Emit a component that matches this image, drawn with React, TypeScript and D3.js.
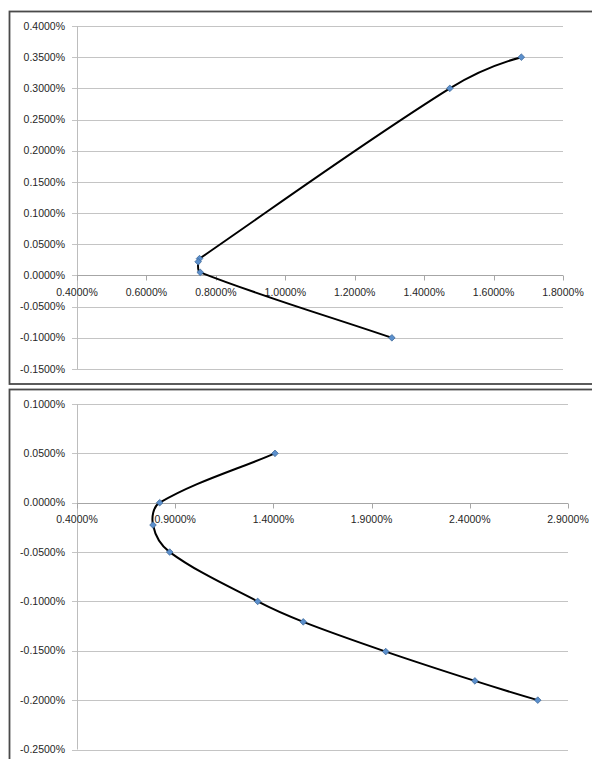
import React, { useEffect, useRef } from "react";
import * as d3 from "d3";

// top chart series (percent values)
const topX = [1.68, 1.474, 0.753, 0.749, 0.755, 1.307];
const topY = [0.35, 0.3, 0.027, 0.022, 0.005, -0.1];
const topXTicks = [0.4, 0.6, 0.8, 1.0, 1.2, 1.4, 1.6, 1.8];
const topYTicks = [0.4, 0.35, 0.3, 0.25, 0.2, 0.15, 0.1, 0.05, 0, -0.05, -0.1, -0.15];

// bottom chart series
const bottomX = [1.408, 0.821, 0.787, 0.872, 1.32, 1.552, 1.972, 2.426, 2.746];
const bottomY = [0.05, 0, -0.0226, -0.05, -0.1, -0.1207, -0.1508, -0.1805, -0.2];
const bottomXTicks = [0.4, 0.9, 1.4, 1.9, 2.4, 2.9];
const bottomYTicks = [0.1, 0.05, 0, -0.05, -0.1, -0.15, -0.2, -0.25];

const W = 592;
const H = 759;

const fmt = (v: number) => v.toFixed(4) + "%";

// Excel-ish smoothing: interior tangents along (next - prev), arm = 1/3 of the
// segment. A short end segment gets its tangent mirrored about the chord so it
// bends naturally; a long one stays on the chord.
function excelSmooth(context: any) {
  let pts: [number, number][] = [];
  return {
    areaStart() {},
    areaEnd() {},
    lineStart() {
      pts = [];
    },
    point(x: number, y: number) {
      pts.push([+x, +y]);
    },
    lineEnd() {
      const n = pts.length;
      if (!n) return;
      context.moveTo(pts[0][0], pts[0][1]);
      if (n === 1) return;
      const unit = (dx: number, dy: number): [number, number] => {
        const l = Math.hypot(dx, dy) || 1;
        return [dx / l, dy / l];
      };
      const dist = (a: number, b: number) =>
        Math.hypot(pts[b][0] - pts[a][0], pts[b][1] - pts[a][1]);
      const dirs: [number, number][] = pts.map((_, i) => {
        const a = pts[Math.max(0, i - 1)];
        const b = pts[Math.min(n - 1, i + 1)];
        return unit(b[0] - a[0], b[1] - a[1]);
      });
      if (n > 2) {
        const mirror = (end: number, nb: number, nb2: number) => {
          if (dist(end, nb) >= dist(nb, nb2)) return;
          const c = unit(pts[nb][0] - pts[end][0], pts[nb][1] - pts[end][1]);
          const sgn = end === 0 ? 1 : -1;
          const cc: [number, number] = [c[0] * sgn, c[1] * sgn];
          const d = dirs[nb];
          const k = 2 * (d[0] * cc[0] + d[1] * cc[1]);
          dirs[end] = unit(k * cc[0] - d[0], k * cc[1] - d[1]);
        };
        mirror(0, 1, 2);
        mirror(n - 1, n - 2, n - 3);
      }
      for (let i = 0; i < n - 1; i++) {
        const p = pts[i];
        const q = pts[i + 1];
        const len = dist(i, i + 1) / 3;
        const d0 = dirs[i];
        const d1 = dirs[i + 1];
        context.bezierCurveTo(
          p[0] + d0[0] * len, p[1] + d0[1] * len,
          q[0] - d1[0] * len, q[1] - d1[1] * len,
          q[0], q[1]
        );
      }
    },
  };
}

interface PanelSpec {
  xs: number[];
  ys: number[];
  xTicks: number[];
  yTicks: number[];
  frameTop: number;
  frameBottom: number;
  left: number;
  right: number;
  top: number;
  bottom: number;
}

const App: React.FC = () => {
  const svgRef = useRef<SVGSVGElement>(null);

  useEffect(() => {
    if (!svgRef.current) return;
    const svg = d3.select(svgRef.current);
    svg.selectAll("*").remove();

    const panels: PanelSpec[] = [
      {
        xs: topX, ys: topY, xTicks: topXTicks, yTicks: topYTicks,
        frameTop: 11.5, frameBottom: 384,
        left: 77, right: 563, top: 26, bottom: 369,
      },
      {
        xs: bottomX, ys: bottomY, xTicks: bottomXTicks, yTicks: bottomYTicks,
        frameTop: 389.5, frameBottom: 780,
        left: 77, right: 568, top: 404, bottom: 749.5,
      },
    ];

    panels.forEach((p) => {
      // chart frame (runs off the right edge like the screenshot)
      svg.append("rect")
        .attr("x", 9.5)
        .attr("y", p.frameTop)
        .attr("width", W + 20)
        .attr("height", p.frameBottom - p.frameTop)
        .attr("fill", "white")
        .attr("stroke", "#4a4a4a")
        .attr("stroke-width", 1.8);

      const xDom = d3.extent(p.xTicks) as [number, number];
      const yDom = d3.extent(p.yTicks) as [number, number];
      const x = d3.scaleLinear().domain(xDom).range([p.left, p.right]);
      const y = d3.scaleLinear().domain(yDom).range([p.bottom, p.top]);

      const g = svg.append("g");

      // horizontal gridlines + y ticks
      g.selectAll(".grid")
        .data(p.yTicks)
        .enter()
        .append("line")
        .attr("x1", p.left - 5)
        .attr("x2", p.right)
        .attr("y1", (d) => Math.round(y(d)) + 0.5)
        .attr("y2", (d) => Math.round(y(d)) + 0.5)
        .attr("stroke", "#c4c4c4")
        .attr("stroke-width", 1);

      // y axis line
      g.append("line")
        .attr("x1", p.left + 0.5)
        .attr("x2", p.left + 0.5)
        .attr("y1", p.top)
        .attr("y2", p.bottom)
        .attr("stroke", "#bdbdbd");

      // x axis at zero
      const y0 = Math.round(y(0)) + 0.5;
      g.append("line")
        .attr("x1", p.left)
        .attr("x2", p.right)
        .attr("y1", y0)
        .attr("y2", y0)
        .attr("stroke", "#a6a6a6");

      g.selectAll(".xtick")
        .data(p.xTicks)
        .enter()
        .append("line")
        .attr("x1", (d) => Math.round(x(d)) + 0.5)
        .attr("x2", (d) => Math.round(x(d)) + 0.5)
        .attr("y1", y0)
        .attr("y2", y0 + 5)
        .attr("stroke", "#a6a6a6");

      // y labels
      g.selectAll(".ylab")
        .data(p.yTicks)
        .enter()
        .append("text")
        .attr("x", p.left - 12)
        .attr("y", (d) => y(d))
        .attr("dy", "0.35em")
        .attr("text-anchor", "end")
        .style("font-family", "'Liberation Sans', Arial, sans-serif")
        .style("font-size", "10.5px")
        .style("fill", "#262626")
        .text((d) => fmt(d));

      // x labels
      g.selectAll(".xlab")
        .data(p.xTicks)
        .enter()
        .append("text")
        .attr("x", (d) => x(d))
        .attr("y", y(0) + 17)
        .attr("dy", "0.35em")
        .attr("text-anchor", "middle")
        .style("font-family", "'Liberation Sans', Arial, sans-serif")
        .style("font-size", "10.5px")
        .style("fill", "#262626")
        .text((d) => fmt(d));

      // smoothed series line
      const pts: [number, number][] = p.xs.map((v, i) => [v, p.ys[i]]);
      const line = d3.line<[number, number]>()
        .x((d) => x(d[0]))
        .y((d) => y(d[1]))
        .curve(excelSmooth as any);

      g.append("path")
        .attr("d", line(pts))
        .attr("fill", "none")
        .attr("stroke", "#000")
        .attr("stroke-width", 2);

      // diamond markers
      const diamond = d3.symbol().type(d3.symbolSquare).size(22);
      g.selectAll(".mk")
        .data(pts)
        .enter()
        .append("path")
        .attr("d", diamond)
        .attr("transform", (d) => `translate(${x(d[0])},${y(d[1])}) rotate(45)`)
        .attr("fill", "#5b8fcc")
        .attr("stroke", "#3d6796")
        .attr("stroke-width", 0.7);
    });
  }, []);

  return (
    <svg
      ref={svgRef}
      width={W}
      height={H}
      viewBox={`0 0 ${W} ${H}`}
      style={{ position: "absolute", left: 0, top: 0, background: "white" }}
    />
  );
};

export default App;
